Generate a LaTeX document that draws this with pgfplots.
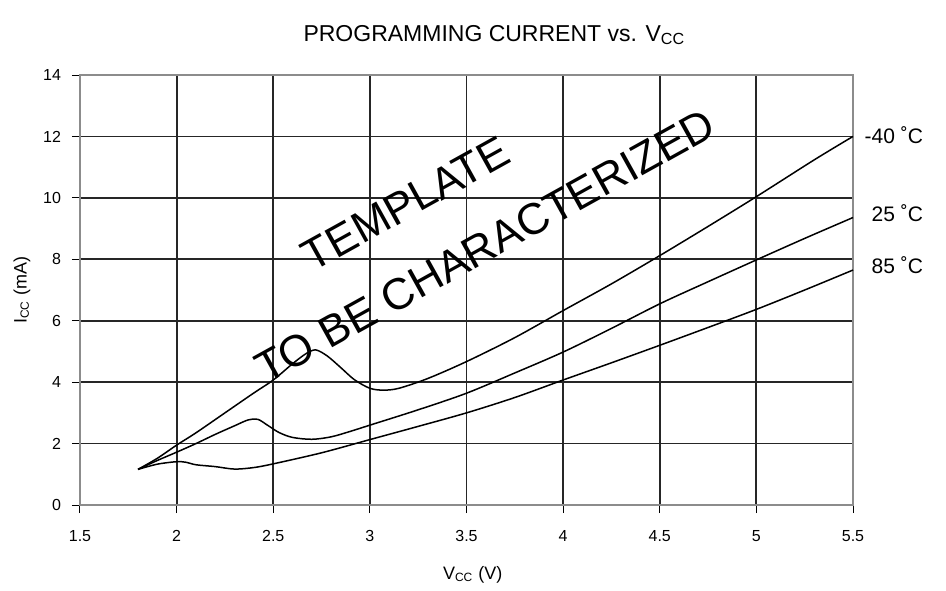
\documentclass[border=0pt]{standalone}
\usepackage{fontspec}
\setmainfont{Liberation Sans}
\usepackage{pgfplots}
\pgfplotsset{compat=1.18}
\tikzset{curve/.style={black, line width=0.75pt, smooth, tension=0.5, mark=none}}
\begin{document}
\begin{tikzpicture}
\begin{axis}[name=ax, scale only axis, width=386.5pt, height=215pt,
  xmin=1.5, xmax=5.5, ymin=0, ymax=14,
  xtick={1.5,2,2.5,3,3.5,4,4.5,5,5.5}, ytick={0,2,4,6,8,10,12,14},
  grid=major, major grid style={line width=0.9pt, black!85},
  axis line style={line width=1.3pt, black!45},
  tick align=outside, tick pos=left, major tick length=4pt,
  tick style={black, line width=0.5pt},
  /pgf/number format/assume math mode=true,
  ticklabel style={font=\fontsize{8}{9}\selectfont},
  xticklabel style={yshift=-5pt},
  yticklabel style={xshift=-2pt},
  xlabel={V\textsubscript{CC} (V)},
  ylabel={I\textsubscript{CC} (mA)},
  label style={font=\fontsize{9}{10}\selectfont},
  xlabel style={at={(axis description cs:0.508,-0.163)}, anchor=center},
  ylabel style={at={(axis description cs:-0.075,0.5)}, anchor=center, rotate=0},
  clip=false,
]
% -40 C
\addplot[curve] coordinates {(1.8,1.16) (1.9,1.52) (2.0,1.95) (2.1,2.35) (2.25,3.0) (2.4,3.65) (2.5,4.07) (2.6,4.6) (2.67,4.93) (2.72,5.05) (2.78,4.85) (2.85,4.47) (2.92,4.08) (3.0,3.8) (3.07,3.74) (3.15,3.8) (3.3,4.12) (3.5,4.67) (3.75,5.45) (4.0,6.33) (4.25,7.2) (4.5,8.12) (4.75,9.07) (5.0,10.04) (5.3,11.24) (5.5,12.0)};
% 25 C
\addplot[curve] coordinates {(1.8,1.16) (1.9,1.45) (2.0,1.72) (2.1,2.0) (2.2,2.3) (2.3,2.58) (2.37,2.77) (2.42,2.79) (2.47,2.6) (2.53,2.36) (2.6,2.2) (2.7,2.14) (2.8,2.22) (2.9,2.4) (3.0,2.6) (3.25,3.1) (3.5,3.64) (3.75,4.3) (4.0,4.98) (4.25,5.75) (4.5,6.55) (4.75,7.27) (5.0,7.98) (5.25,8.68) (5.5,9.36)};
% 85 C
\addplot[curve] coordinates {(1.8,1.16) (1.9,1.33) (2.0,1.41) (2.05,1.39) (2.1,1.31) (2.2,1.25) (2.3,1.17) (2.4,1.22) (2.5,1.34) (2.75,1.7) (3.0,2.13) (3.25,2.56) (3.5,3.0) (3.75,3.5) (4.0,4.07) (4.25,4.63) (4.5,5.2) (4.75,5.78) (5.0,6.37) (5.25,7.0) (5.5,7.65)};
\node[anchor=east, font=\fontsize{10.5}{11}\selectfont] at ([xshift=38.5pt]axis cs:5.5,12.05) {-40 ˚C};
\node[anchor=east, font=\fontsize{10.5}{11}\selectfont] at ([xshift=38.5pt]axis cs:5.5,9.5) {25 ˚C};
\node[anchor=east, font=\fontsize{10.5}{11}\selectfont] at ([xshift=38.5pt]axis cs:5.5,7.8) {85 ˚C};
\node[rotate=29, font=\fontsize{22}{22}\selectfont, inner sep=0pt] at (axis cs:3.185,9.82) {TEMPLATE};
\node[rotate=29, font=\fontsize{22}{22}\selectfont, inner sep=0pt] at (axis cs:3.596,8.43) {TO BE CHARACTERIZED};
\node[font=\fontsize{11.5}{12}\selectfont, anchor=center] at ([yshift=20pt]rel axis cs:0.536,1) {PROGRAMMING CURRENT vs. V\textsubscript{CC}};
\end{axis}
\path[use as bounding box] ([xshift=-40pt,yshift=-42pt]ax.south west) rectangle ([xshift=46.5pt,yshift=37.5pt]ax.north east);
\end{tikzpicture}
\end{document}
